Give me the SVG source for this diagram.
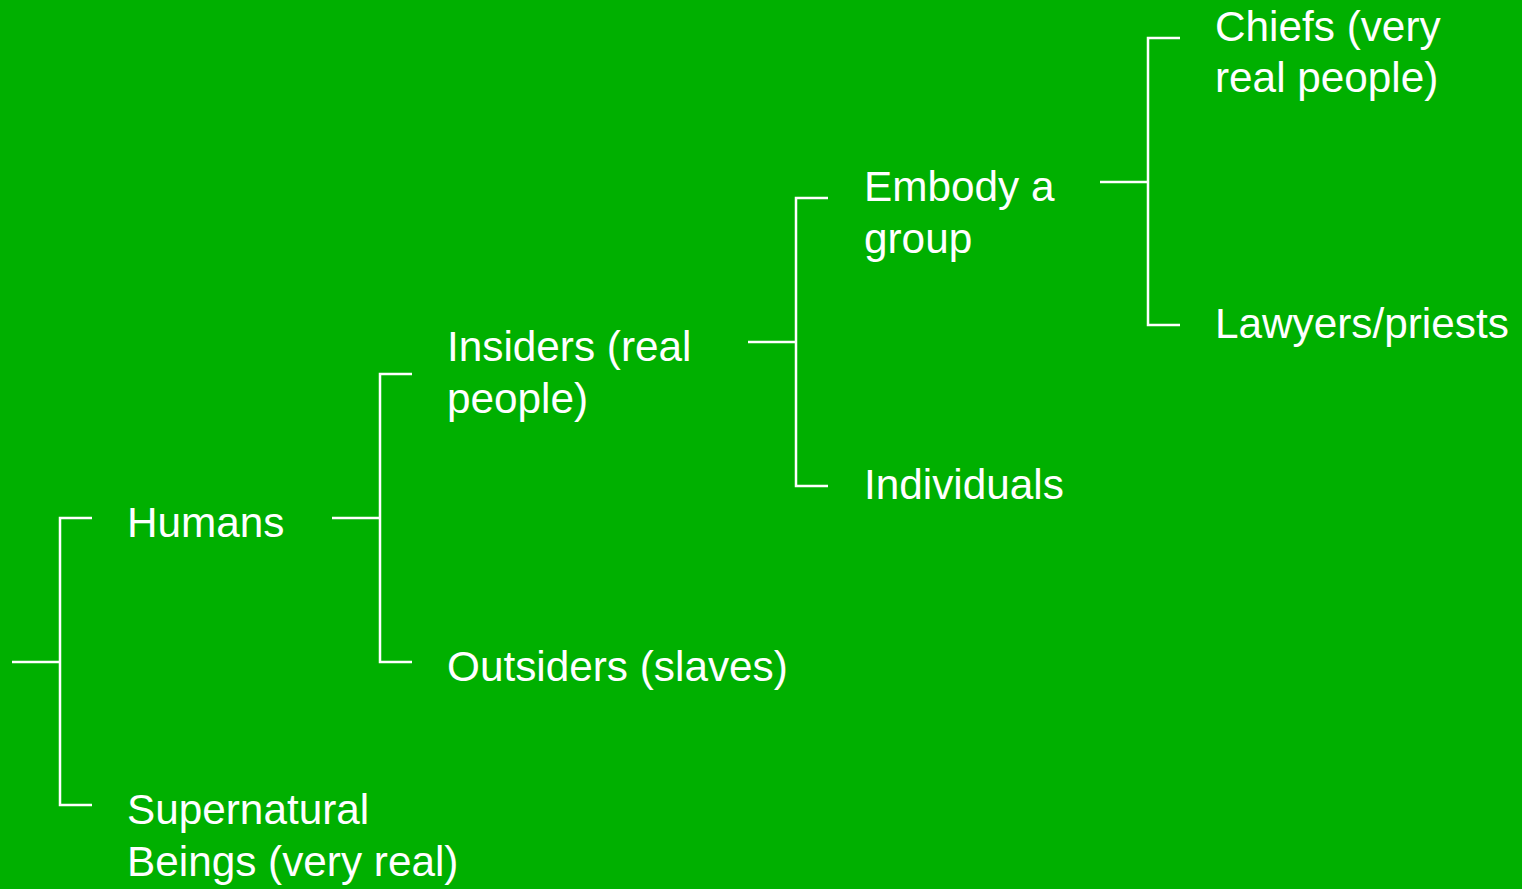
<svg xmlns="http://www.w3.org/2000/svg" width="1522" height="889" viewBox="0 0 1522 889">
<style>
.t{font-family:"Liberation Sans",Arial,sans-serif;font-size:42.3px;fill:#ffffff}
.c{fill:none;stroke:#ffffff;stroke-width:2.5}
</style>
<rect x="0" y="0" width="1522" height="889" fill="#00B000"/>
<g id="connectors">
<path class="c" d="M12,662 H60 M92,518 H60 V805 H92"/>
<path class="c" d="M332,518 H380 M412,374 H380 V662 H412"/>
<path class="c" d="M748,342 H796 M828,198 H796 V486 H828"/>
<path class="c" d="M1100,182 H1148 M1180,38 H1148 V325 H1180"/>
</g>
<g id="humans"><text class="t" x="127" y="537">Humans</text></g>
<g id="supernatural"><text class="t" x="127" y="824">Supernatural</text><text class="t" x="127" y="876">Beings (very real)</text></g>
<g id="insiders"><text class="t" x="447" y="361">Insiders (real</text><text class="t" x="447" y="413">people)</text></g>
<g id="outsiders"><text class="t" x="447" y="681">Outsiders (slaves)</text></g>
<g id="embody"><text class="t" x="864" y="201">Embody a</text><text class="t" x="864" y="253">group</text></g>
<g id="individuals"><text class="t" x="864" y="499">Individuals</text></g>
<g id="chiefs"><text class="t" x="1215" y="41">Chiefs (very</text><text class="t" x="1215" y="92">real people)</text></g>
<g id="lawyers"><text class="t" x="1215" y="338">Lawyers/priests</text></g>
</svg>
